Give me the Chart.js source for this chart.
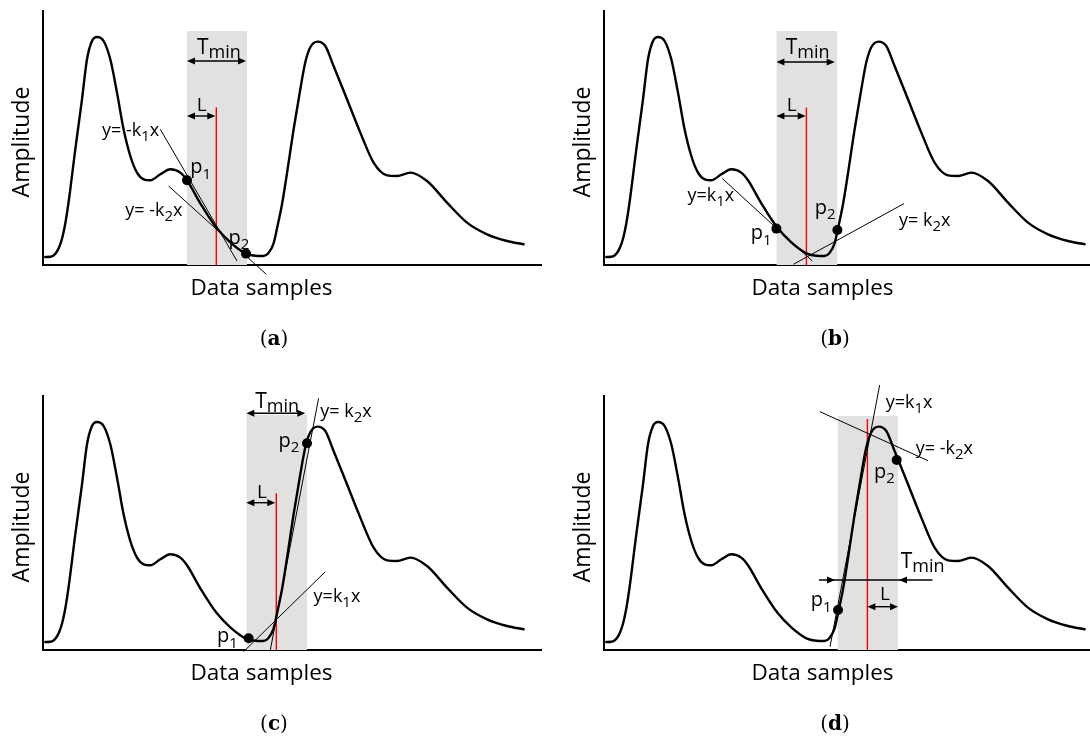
<!DOCTYPE html>
<html><head><meta charset="utf-8">
<script src="https://cdn.jsdelivr.net/npm/chart.js@4.4.1/dist/chart.umd.min.js"></script>
<style>
html,body{margin:0;padding:0;background:#fff;overflow:hidden;width:1090px;height:738px;position:relative;}
canvas{position:absolute;}
</style></head><body>
<canvas id="pa" width="560" height="384" style="left:0;top:0"></canvas>
<canvas id="pb" width="560" height="384" style="left:561px;top:0"></canvas>
<canvas id="pc" width="560" height="384" style="left:0;top:385px"></canvas>
<canvas id="pd" width="560" height="384" style="left:561px;top:385px"></canvas>
<script>
// ---- signal (same in every panel) ----
const sampleX = [2.3, 7.3, 10.5, 13.3, 16.2, 19.2, 22.2, 25.6, 32.3, 39, 44, 49, 54, 60.6, 67.3, 74, 80.6, 87.3, 94, 100.6, 107.3, 117.3, 127.3, 137.3, 144, 157.3, 173.3, 187.3, 203, 212.3, 220.3, 225.3, 230.6, 234.3, 239, 244.3, 250.3, 257.3, 262.3, 267.3, 274.6, 282.3, 290.6, 304, 317.3, 330.6, 344, 354, 367.3, 384, 404, 424, 444, 464, 480.6];
const amplitude = [8, 8.2, 9.5, 12.5, 18, 27, 41, 63, 115.7, 165.7, 205.7, 224, 228, 224, 205.7, 172.4, 135.7, 109, 92.4, 85.7, 84.7, 90.7, 95.7, 92.4, 84.7, 61.7, 37.4, 22.7, 11.4, 9.2, 9, 11.7, 21.7, 38, 60.7, 93.7, 133.7, 175.7, 202.7, 217.7, 223.4, 219, 199, 165.7, 132.4, 102.4, 89.7, 89, 92.4, 84, 62.4, 42.4, 30.7, 24, 20.7];
const xMax = 498, yMax = 254;

// ---- per-panel annotation values (a, b, c, d) ----
const panelIds = ['pa', 'pb', 'pc', 'pd'];
const captions = ['a', 'b', 'c', 'd'];
const windowStart = [144, 172.4, 203.3, 233.4];
const windowEnd = [204, 233.4, 264, 294];
const windowTop = [234, 234, 235, 234];
const splitX = [173.3, 202.4, 233.3, 263.4];
const splitTop = [157.7, 157.4, 156.7, 231];
const point1 = [[144, 84.7], [172.4, 36.4], [205.6, 11.7], [234, 40]];
const point2 = [[203, 11.4], [233.4, 35], [264, 206.7], [292.7, 190]];
const tangentK1 = [[[117.3, 135.7], [194, 4]], [[118.4, 86.4], [208.4, 4]], [[200.6, -1.7], [282.3, 78.3]], [[226, 3.3], [276, 266.7]]];
const tangentK2 = [[[125.6, 79], [223.3, -9.3]], [[189.4, 0.7], [300, 61.4]], [[227.3, 0], [275.6, 251.7]], [[216, 238.3], [324, 189.3]]];
const k1Text = ['y= -k', 'y=k', 'y=k', 'y=k'];
const k2Text = ['y= -k', 'y= k', 'y= k', 'y= -k'];

// annotation anchors (data units)
const tminArrowY = [204, 203, 236.7, 70];
const tminArrowX = [[144, 203], [172.4, 230.7], [203.3, 262.3], [231, 295]];
const lArrowY = [149, 149, 147.3, 43.3];
const lArrowX = [[144, 172.3], [172.4, 201.7], [203.3, 232.3], [263.4, 294]];
const tminLabel = [[154, 210.7], [181.7, 210.7], [212.3, 241.7], [296.7, 81.7]];
const lLabel = [[158.6, 153.7], [187.7, 153.7], [219, 151.7], [280.9, 50]];
const p1Label = [[147.3, 91.7], [146.7, 25.7], [174, 8.3], [206.7, 44]];
const p2Label = [[185.6, 20.7], [210.7, 50.7], [235.6, 203.3], [270, 171.7]];
const k1Label = [[59, 129], [83.4, 64], [270.6, 48.3], [281.7, 241.7]];
const k2Label = [[82.3, 49], [295, 39], [277.3, 233.3], [311.7, 196]];

const FAM = "'Open Sans', sans-serif";

function head(ctx, tipX, yy, dir) {
  ctx.beginPath();
  ctx.moveTo(tipX, yy);
  ctx.lineTo(tipX - 8 * dir, yy - 3.5);
  ctx.lineTo(tipX - 8 * dir, yy + 3.5);
  ctx.closePath();
  ctx.fill();
}
function hline(ctx, x1, x2, yy) {
  ctx.beginPath(); ctx.moveTo(x1, yy); ctx.lineTo(x2, yy); ctx.stroke();
}
function parts(ctx, x, y, list) {
  let cx = x;
  for (const [t, size, dy] of list) {
    ctx.font = size + 'px ' + FAM;
    ctx.fillText(t, cx, y + dy);
    cx += ctx.measureText(t).width;
  }
}

const annot = {
  id: 'annot',
  afterDatasetsDraw(chart, args, opts) {
    const i = opts.idx;
    const { ctx, chartArea: ca } = chart;
    const xs = chart.scales.x, ys = chart.scales.y;
    const px = v => xs.getPixelForValue(v), py = v => ys.getPixelForValue(v);
    ctx.save();
    ctx.fillStyle = '#000'; ctx.strokeStyle = '#000'; ctx.lineWidth = 1.4;
    // Tmin arrow
    const ty = py(tminArrowY[i]);
    if (i === 3) {
      hline(ctx, px(215), px(328.4), ty);
      head(ctx, px(tminArrowX[i][0]), ty, 1);
      head(ctx, px(tminArrowX[i][1]), ty, -1);
    } else {
      hline(ctx, px(tminArrowX[i][0]) + 3, px(tminArrowX[i][1]) - 3, ty);
      head(ctx, px(tminArrowX[i][0]), ty, -1);
      head(ctx, px(tminArrowX[i][1]), ty, 1);
    }
    // L arrow
    const ly = py(lArrowY[i]);
    hline(ctx, px(lArrowX[i][0]) + 3, px(lArrowX[i][1]) - 3, ly);
    head(ctx, px(lArrowX[i][0]), ly, -1);
    head(ctx, px(lArrowX[i][1]), ly, 1);
    // labels
    ctx.textBaseline = 'alphabetic'; ctx.textAlign = 'left';
    parts(ctx, px(tminLabel[i][0]), py(tminLabel[i][1]), [['T', 21, 0], ['min', 18, 3.5]]);
    ctx.font = '19px ' + FAM; ctx.textAlign = 'center';
    ctx.fillText('L', px(lLabel[i][0]), py(lLabel[i][1]));
    ctx.textAlign = 'left';
    parts(ctx, px(p1Label[i][0]), py(p1Label[i][1]), [['p', 20, 0], ['1', 15, 6]]);
    parts(ctx, px(p2Label[i][0]), py(p2Label[i][1]), [['p', 20, 0], ['2', 15, 5]]);
    parts(ctx, px(k1Label[i][0]), py(k1Label[i][1]), [[k1Text[i], 18, 0], ['1', 15, 5], ['x', 18, 0]]);
    parts(ctx, px(k2Label[i][0]), py(k2Label[i][1]), [[k2Text[i], 18, 0], ['2', 15, 5], ['x', 18, 0]]);
    // axis titles
    ctx.font = '22.5px ' + FAM; ctx.textAlign = 'center';
    ctx.fillText('Data samples', ca.left + 218.5, ca.bottom + 30);
    ctx.save();
    ctx.translate(22, 142); ctx.rotate(-Math.PI / 2);
    ctx.textBaseline = 'middle';
    ctx.font = '23px ' + FAM;
    ctx.fillText('Amplitude', 0, 0);
    ctx.restore();
    // caption
    const cx = ca.left + 231, cy = ca.bottom + 80;
    ctx.textAlign = 'left';
    ctx.font = '20px "DejaVu Serif", serif';
    const wp = ctx.measureText('(').width;
    ctx.font = 'bold 20px "DejaVu Serif", serif';
    const wl = ctx.measureText(captions[i]).width;
    const x0 = cx - (2 * wp + wl) / 2;
    ctx.font = '20px "DejaVu Serif", serif';
    ctx.fillText('(', x0, cy);
    ctx.font = 'bold 20px "DejaVu Serif", serif';
    ctx.fillText(captions[i], x0 + wp, cy);
    ctx.font = '20px "DejaVu Serif", serif';
    ctx.fillText(')', x0 + wp + wl, cy);
    ctx.restore();
  }
};

const curve = sampleX.map((v, k) => ({ x: v, y: amplitude[k] }));

panelIds.forEach((id, i) => {
  const seg = s => [{ x: s[0][0], y: s[0][1] }, { x: s[1][0], y: s[1][1] }];
  new Chart(document.getElementById(id), {
    type: 'scatter',
    data: {
      datasets: [
        { data: [{ x: windowStart[i], y: windowTop[i] }, { x: windowEnd[i], y: windowTop[i] }], showLine: true, fill: 'origin', backgroundColor: '#e1e1e1', borderWidth: 0, pointRadius: 0, order: 10 },
        { data: curve, showLine: true, borderColor: '#000', borderWidth: 2.4, cubicInterpolationMode: 'monotone', pointRadius: 0, borderJoinStyle: 'round', borderCapStyle: 'round', order: 3 },
        { data: [{ x: splitX[i], y: 0 }, { x: splitX[i], y: splitTop[i] }], showLine: true, borderColor: '#ff0000', borderWidth: 1.4, pointRadius: 0, order: 4 },
        { data: seg(tangentK1[i]), showLine: true, borderColor: '#000', borderWidth: 1, pointRadius: 0, clip: false, order: 2 },
        { data: seg(tangentK2[i]), showLine: true, borderColor: '#000', borderWidth: 1, pointRadius: 0, clip: false, order: 2 },
        { data: [{ x: point1[i][0], y: point1[i][1] }, { x: point2[i][0], y: point2[i][1] }], showLine: false, pointRadius: 5, pointBackgroundColor: '#000', pointBorderWidth: 0, order: 0 }
      ]
    },
    options: {
      responsive: false, animation: false, events: [],
      layout: { padding: { left: 43, top: 11, right: 19, bottom: 119 } },
      plugins: { legend: { display: false }, tooltip: { enabled: false }, annot: { idx: i } },
      scales: {
        x: { type: 'linear', min: 0, max: xMax, ticks: { display: false }, grid: { display: false, drawTicks: false }, border: { display: true, color: '#000', width: 2 }, afterFit: s => { s.height = 0; } },
        y: { type: 'linear', min: 0, max: yMax, ticks: { display: false }, grid: { display: false, drawTicks: false }, border: { display: true, color: '#000', width: 2 }, afterFit: s => { s.width = 0; } }
      }
    },
    plugins: [annot]
  });
});
</script>
</body></html>
